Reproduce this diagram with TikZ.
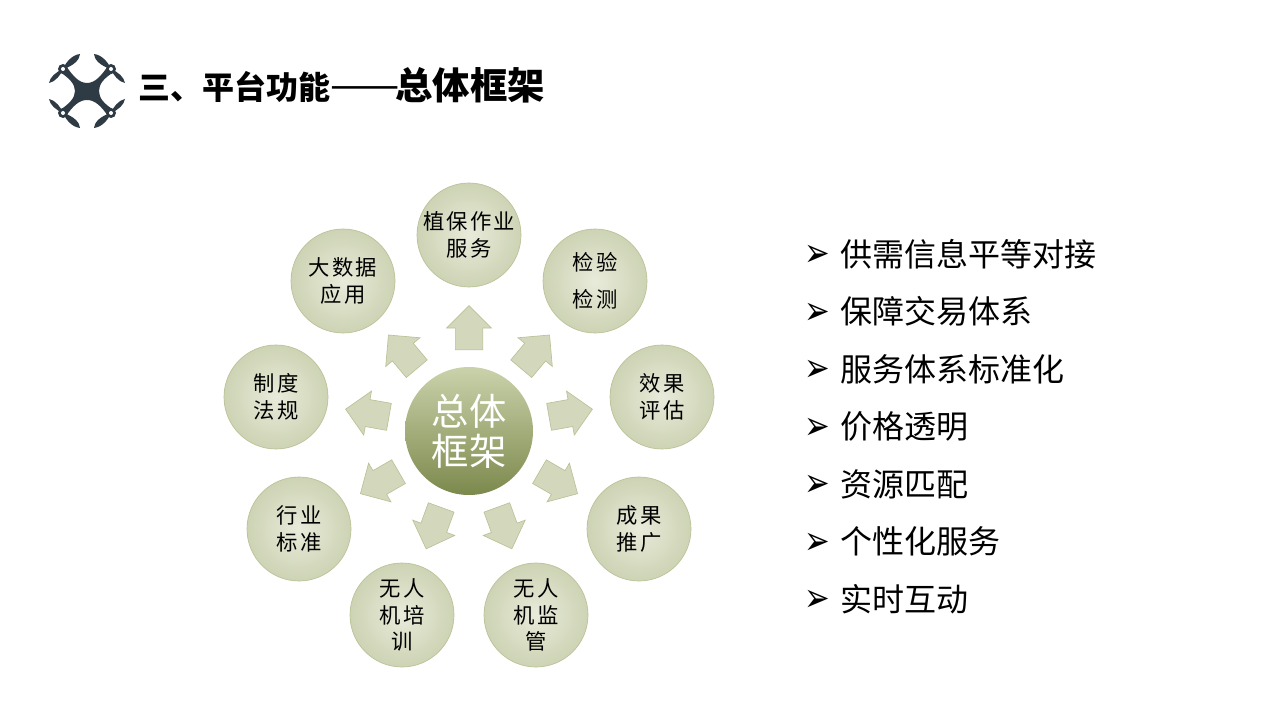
\documentclass[tikz,border=0pt]{standalone}
\usepackage{fontspec}
\setmainfont{Noto Sans CJK SC}
\newfontfamily\labelfont[LetterSpace=10]{Noto Sans CJK SC}
\newfontfamily\bulletfont{DejaVu Sans}
\usetikzlibrary{positioning,shapes.arrows}
\definecolor{dronegray}{HTML}{2E3B44}
\definecolor{satlight}{HTML}{E8EBDA}
\definecolor{satedge}{HTML}{CDD3B4}
\definecolor{satline}{HTML}{B9C296}
\definecolor{hubtop}{HTML}{CAD2AB}
\definecolor{hubmid}{HTML}{B2BC8C}
\definecolor{hubbot}{HTML}{7C894C}
\definecolor{arrowfill}{HTML}{D3D8BD}

\begin{document}
\begin{tikzpicture}[
    x=0.75pt,
    y=-0.75pt,
    sat/.style={circle, draw=satline, line width=0.5pt, inner color=satlight, outer color=satedge, minimum size=78pt, inner sep=0pt, align=center, font=\labelfont\fontsize{16}{20}\selectfont},
    hub/.style={circle, draw=none, top color=hubtop, middle color=hubmid, bottom color=hubbot, minimum size=96pt, inner sep=0pt, align=center, text=white, font=\fontsize{28}{30}\selectfont},
    ray/.style={single arrow, draw=satline, line width=0.5pt, fill=arrowfill, minimum height=33pt, inner sep=10pt, single arrow head extend=6.5pt, single arrow tip angle=90, single arrow head indent=0pt},
    item/.style={anchor=west, inner sep=0pt, font=\fontsize{24}{28}\selectfont},
    itemmark/.style={left=7pt of #1, yshift=-1.6pt, inner sep=0pt, font=\bulletfont\fontsize{23}{26}\selectfont, yscale=1.3},
    drone/.style={fill=dronegray, draw=none}
]
\useasboundingbox (0,0) rectangle (1280,720);

% drone icon
\fill[drone] (66,66) .. controls (73,76) and (79,83) .. (87,83) .. controls (95,83) and (101,76) .. (108,66) -- (114,72) .. controls (104,78) and (99,84) .. (99,91) .. controls (99,98) and (104,104) .. (114,110) -- (108,116) .. controls (101,106) and (95,100) .. (87,100) .. controls (79,100) and (73,106) .. (66,116) -- (60,110) .. controls (69,104) and (75,98) .. (75,91) .. controls (75,84) and (69,78) .. (60,72) -- cycle;
\fill[drone] (49,83) .. controls (50,77) and (56,72) .. (63,69) .. controls (66,62) and (72,55) .. (80,54) .. controls (80,59) and (74,66) .. (63,69) .. controls (61,75) and (55,82) .. (49,83) -- cycle;
\fill[drone] (125,83) .. controls (124,77) and (118,72) .. (111,69) .. controls (108,62) and (102,55) .. (94,54) .. controls (94,59) and (100,66) .. (111,69) .. controls (113,75) and (119,82) .. (125,83) -- cycle;
\fill[drone] (49,99) .. controls (50,105) and (56,110) .. (63,113) .. controls (66,120) and (72,127) .. (80,128) .. controls (80,123) and (74,116) .. (63,113) .. controls (61,107) and (55,100) .. (49,99) -- cycle;
\fill[drone] (125,99) .. controls (124,105) and (118,110) .. (111,113) .. controls (108,120) and (102,127) .. (94,128) .. controls (94,123) and (100,116) .. (111,113) .. controls (113,107) and (119,100) .. (125,99) -- cycle;
\fill[drone] (63,69) circle (5);
\fill[drone] (111,69) circle (5);
\fill[drone] (63,113) circle (5);
\fill[drone] (111,113) circle (5);
\fill[white] (63,69) circle (2);
\fill[white] (111,69) circle (2);
\fill[white] (63,113) circle (2);
\fill[white] (111,113) circle (2);

\node[anchor=west, inner sep=0pt, font=\bfseries\fontsize{24}{28}\selectfont] (title) at (138,85) {三、平台功能{\mdseries\fontsize{31}{28}\selectfont ——}\hspace{-3pt}{\fontsize{28}{28}\selectfont 总体框架}};

\node[hub] (center) at (469,431) {总体\\框架};

\node[sat] (plant) at (469,235) {植保作业\\服务};
\node[sat, font=\labelfont\fontsize{16}{27.5}\selectfont] (inspect) at (595,281) {检验\\检测};
\node[sat] (effect) at (662,397) {效果\\评估};
\node[sat] (result) at (639,529) {成果\\推广};
\node[sat] (supervise) at (536,615) {无人\\机监\\管};
\node[sat] (train) at (402,615) {无人\\机培\\训};
\node[sat] (standard) at (299,529) {行业\\标准};
\node[sat] (rules) at (276,397) {制度\\法规};
\node[sat] (data) at (343,281) {大数据\\应用};

\node[ray, rotate=90] (rayplant) at (469,334.5) {};
\node[ray, rotate=50] (rayinspect) at (531,357.1) {};
\node[ray, rotate=10] (rayeffect) at (564,414.2) {};
\node[ray, rotate=-30] (rayresult) at (552.6,479.25) {};
\node[ray, rotate=-70] (raysupervise) at (502,521.7) {};
\node[ray, rotate=-110] (raytrain) at (436,521.7) {};
\node[ray, rotate=-150] (raystandard) at (385.4,479.25) {};
\node[ray, rotate=170] (rayrules) at (374,414.2) {};
\node[ray, rotate=130] (raydata) at (407,357.1) {};

\node[item] (itema) at (840,254) {供需信息平等对接};
\node[item] (itemb) at (840,311.5) {保障交易体系};
\node[item] (itemc) at (840,369) {服务体系标准化};
\node[item] (itemd) at (840,426.5) {价格透明};
\node[item] (iteme) at (840,484) {资源匹配};
\node[item] (itemf) at (840,541.5) {个性化服务};
\node[item] (itemg) at (840,599) {实时互动};
\node[itemmark=itema] (marka) {➢};
\node[itemmark=itemb] (markb) {➢};
\node[itemmark=itemc] (markc) {➢};
\node[itemmark=itemd] (markd) {➢};
\node[itemmark=iteme] (marke) {➢};
\node[itemmark=itemf] (markf) {➢};
\node[itemmark=itemg] (markg) {➢};
\end{tikzpicture}
\end{document}
